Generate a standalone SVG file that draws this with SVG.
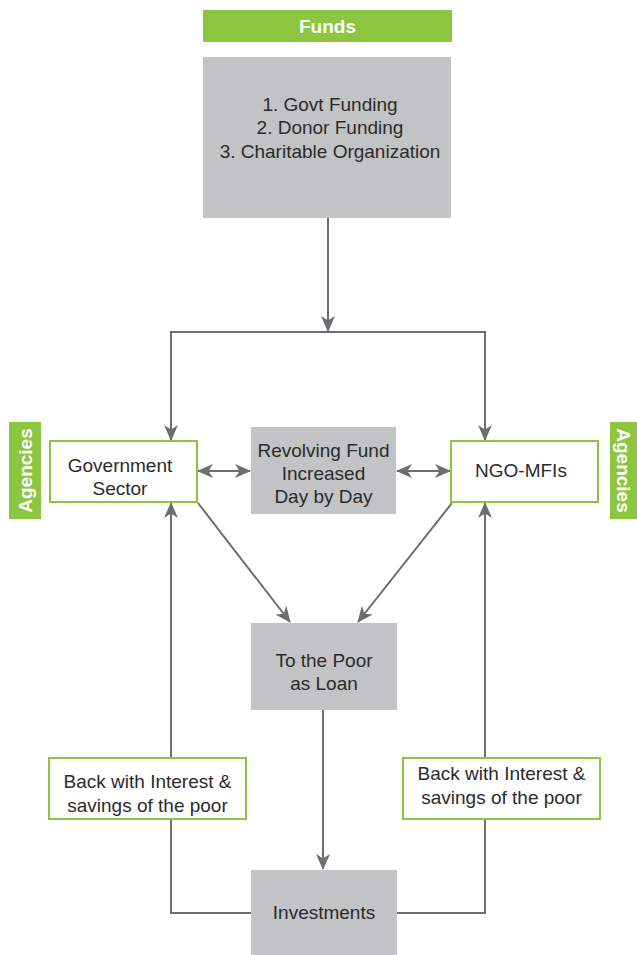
<svg xmlns="http://www.w3.org/2000/svg" width="637" height="955" viewBox="0 0 637 955">
<defs>
<style>
.g{fill:#c2c3c5;}
.w{fill:#ffffff;stroke:#8cc63f;stroke-width:2;}
.gr{fill:#8cc63f;}
.t{font-family:"Liberation Sans",Arial,sans-serif;font-size:19px;fill:#2b2b2b;text-anchor:middle;}
.tb{font-family:"Liberation Sans",Arial,sans-serif;font-size:19px;font-weight:bold;fill:#ffffff;text-anchor:middle;}
.c{fill:none;stroke:#6d6e71;stroke-width:2;}
</style>
<marker id="ah" viewBox="0 0 16 14" markerWidth="16" markerHeight="14" markerUnits="userSpaceOnUse" refX="15" refY="7" orient="auto-start-reverse">
<path d="M0,0 L16,7 L0,14 L4.5,7 z" fill="#6d6e71"/>
</marker>
</defs>
<rect width="637" height="955" fill="#ffffff"/>
<g id="connectors">
<path class="c" d="M328,218 V331" marker-end="url(#ah)"/>
<path class="c" d="M171,440 V332 H485 V440" marker-end="url(#ah)" marker-start="url(#ah)"/>
<path class="c" d="M198,471 H250" marker-start="url(#ah)" marker-end="url(#ah)"/>
<path class="c" d="M397,471 H450" marker-start="url(#ah)" marker-end="url(#ah)"/>
<path class="c" d="M198,503 L290,622" marker-end="url(#ah)"/>
<path class="c" d="M452,503 L358,622" marker-end="url(#ah)"/>
<path class="c" d="M323,710 V869" marker-end="url(#ah)"/>
<path class="c" d="M251,913 H171 V503" marker-end="url(#ah)"/>
<path class="c" d="M397,913 H485 V503" marker-end="url(#ah)"/>
</g>
<g id="funds-label">
<rect class="gr" x="203" y="10" width="249" height="32"/>
<text class="tb" x="327.5" y="33">Funds</text>
</g>
<g id="funds">
<rect class="g" x="203" y="57" width="248" height="161"/>
<text class="t" x="330" y="111">1. Govt Funding</text>
<text class="t" x="330" y="134">2. Donor Funding</text>
<text class="t" x="330" y="158">3. Charitable Organization</text>
</g>
<g id="agencies-left">
<rect class="gr" x="9" y="422" width="32" height="97"/>
<text class="tb" transform="translate(32,470.5) rotate(-90)" x="0" y="0">Agencies</text>
</g>
<g id="agencies-right">
<rect class="gr" x="610" y="422" width="32" height="97"/>
<text class="tb" transform="translate(617,470.5) rotate(90)" x="0" y="0">Agencies</text>
</g>
<g id="government">
<rect class="w" x="50" y="441" width="147" height="61"/>
<text class="t" x="120" y="472">Government</text>
<text class="t" x="120" y="495">Sector</text>
</g>
<g id="revolving">
<rect class="g" x="251" y="427" width="145" height="87"/>
<text class="t" x="323.5" y="457">Revolving Fund</text>
<text class="t" x="323.5" y="480">Increased</text>
<text class="t" x="323.5" y="503">Day by Day</text>
</g>
<g id="ngo">
<rect class="w" x="451" y="441" width="147" height="61"/>
<text class="t" x="521" y="477">NGO-MFIs</text>
</g>
<g id="poor">
<rect class="g" x="251" y="623" width="146" height="87"/>
<text class="t" x="324" y="667">To the Poor</text>
<text class="t" x="324" y="690">as Loan</text>
</g>
<g id="back-left">
<rect class="w" x="49" y="758" width="197" height="61"/>
<text class="t" x="147.5" y="788">Back with Interest &amp;</text>
<text class="t" x="147.5" y="812">savings of the poor</text>
</g>
<g id="back-right">
<rect class="w" x="403" y="758" width="197" height="61"/>
<text class="t" x="501.5" y="780">Back with Interest &amp;</text>
<text class="t" x="501.5" y="804">savings of the poor</text>
</g>
<g id="investments">
<rect class="g" x="251" y="870" width="146" height="85"/>
<text class="t" x="324" y="919">Investments</text>
</g>
</svg>
